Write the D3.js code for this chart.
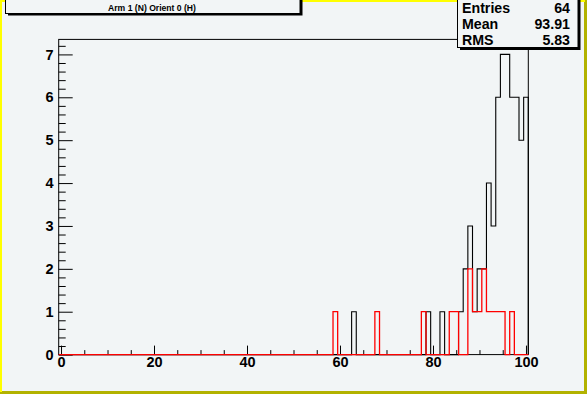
<!DOCTYPE html>
<html>
<head>
<meta charset="utf-8">
<script src="https://cdn.jsdelivr.net/npm/d3@7"></script>
<style>
	html, body { margin: 0; padding: 0; background: #f2f5f6; }
	svg { display: block; }
	text { font-family: "Liberation Sans", Arial, Helvetica, sans-serif; font-weight: bold; }
</style>
</head>
<body>
<div id="chart"></div>
<script>
const width = 587;
const height = 394;

// histogram contents, bins of width 1 centred on integers 0..100
const blackBins = [63, 79, 82, 86, 87, 88, 89, 90, 91, 92, 93, 94, 95, 96, 97, 98, 99, 100];
const blackCounts = [1, 1, 1, 1, 2, 3, 1, 2, 2, 4, 3, 6, 7, 7, 6, 6, 5, 6];
const redBins = [59, 68, 78, 84, 85, 88, 89, 90, 91, 92, 93, 94, 95, 97];
const redCounts = [1, 1, 1, 1, 1, 2, 1, 1, 2, 1, 1, 1, 1, 1];

const xMajorTicks = [0, 20, 40, 60, 80, 100];
const yMajorTicks = [0, 1, 2, 3, 4, 5, 6, 7];

const titleText = "Arm 1 (N) Orient 0 (H)";
const statLabels = ["Entries", "Mean", "RMS"];
const statValues = ["64", "93.91", "5.83"];

const bg = "#f2f5f6";

const svg = d3
	.select("#chart")
	.append("svg")
	.attr("width", width)
	.attr("height", height);

svg.append("rect").attr("width", width).attr("height", height).attr("fill", bg);

// canvas bevel border
svg.append("rect").attr("x", 0).attr("y", height - 3).attr("width", width).attr("height", 3).attr("fill", "#b2b200");
svg.append("rect").attr("x", width - 3).attr("y", 0).attr("width", 3).attr("height", height).attr("fill", "#b2b200");
svg.append("rect").attr("x", 0).attr("y", 0).attr("width", width - 2).attr("height", 2).attr("fill", "#ffff00");
svg.append("rect").attr("x", 0).attr("y", 0).attr("width", 2).attr("height", height - 2).attr("fill", "#ffff00");

// frame
const frameL = 58.7, frameR = 528.3, frameT = 39.4, frameB = 354.6;

const x = d3.scaleLinear().domain([-0.5, 100.5]).range([frameL, frameR]);
const y = d3.scaleLinear().domain([0, 7.35]).range([frameB, frameT]);

const frame = svg.append("g");

frame
	.append("rect")
	.attr("x", frameL)
	.attr("y", frameT)
	.attr("width", frameR - frameL)
	.attr("height", frameB - frameT)
	.attr("fill", "none")
	.attr("stroke", "#000")
	.attr("stroke-width", 1);

// axes: ticks point into the frame
const xMinor = d3.range(0, 101, 5).filter(v => !xMajorTicks.includes(v));
const yMinor = d3.range(0, 7.3, 0.2).filter(v => Math.abs(v - Math.round(v)) > 0.01);

frame
	.append("g")
	.attr("transform", `translate(0,${frameB})`)
	.call(d3.axisBottom(x).tickValues(xMinor).tickSize(-4.5).tickFormat(""))
	.call(g => g.select(".domain").remove());

const xAxis = frame
	.append("g")
	.attr("transform", `translate(0,${frameB})`)
	.call(d3.axisBottom(x).tickValues(xMajorTicks).tickSize(-9).tickPadding(2))
	.call(g => g.select(".domain").remove());

xAxis.selectAll("text").attr("font-size", 14.5).attr("fill", "#000").attr("font-weight", "bold")
	.attr("font-family", '"Liberation Sans", Arial, sans-serif');

frame
	.append("g")
	.attr("transform", `translate(${frameL},0)`)
	.call(d3.axisLeft(y).tickValues(yMinor).tickSize(-7).tickFormat(""))
	.call(g => g.select(".domain").remove());

const yAxis = frame
	.append("g")
	.attr("transform", `translate(${frameL},0)`)
	.call(d3.axisLeft(y).tickValues(yMajorTicks).tickSize(-14).tickPadding(5))
	.call(g => g.select(".domain").remove());

yAxis.selectAll("text").attr("font-size", 14.5).attr("fill", "#000").attr("font-weight", "bold")
	.attr("font-family", '"Liberation Sans", Arial, sans-serif');

// histograms
function fullBins(bins, counts) {
	const out = new Array(101).fill(0);
	bins.forEach((b, i) => { out[b] = counts[i]; });
	return out;
}

function stepPoints(values) {
	const pts = values.map((v, i) => [i - 0.5, v]);
	pts.push([100.5, values[values.length - 1]]);
	pts.push([100.5, 0]);
	return pts;
}

const histLine = d3
	.line()
	.x(d => x(d[0]))
	.y(d => y(d[1]))
	.curve(d3.curveStepAfter);

svg.append("path")
	.attr("d", histLine(stepPoints(fullBins(blackBins, blackCounts))))
	.attr("fill", "none")
	.attr("stroke", "#000")
	.attr("stroke-width", 1.1);

svg.append("path")
	.attr("d", histLine(stepPoints(fullBins(redBins, redCounts))))
	.attr("fill", "none")
	.attr("stroke", "#ff0000")
	.attr("stroke-width", 1.3);

// title pave with shadow
svg.append("rect").attr("x", 8).attr("y", -5).attr("width", 294.5).attr("height", 20.5).attr("fill", "#000");
svg.append("rect")
	.attr("x", 5.5).attr("y", -5).attr("width", 294.5).attr("height", 18.5)
	.attr("fill", bg).attr("stroke", "#000").attr("stroke-width", 1);
svg.append("text")
	.attr("x", 152).attr("y", 11)
	.attr("text-anchor", "middle")
	.attr("font-size", 8.6)
	.text(titleText);

// stats box with shadow
svg.append("rect").attr("x", 460).attr("y", -5).attr("width", 120.5).attr("height", 55).attr("fill", "#000");
svg.append("rect")
	.attr("x", 457.5).attr("y", -5).attr("width", 120.5).attr("height", 52.5)
	.attr("fill", bg).attr("stroke", "#000").attr("stroke-width", 1);

const stats = svg.append("g");
statLabels.forEach((lab, i) => {
	stats.append("text").attr("x", 462).attr("y", 13 + i * 16.2).attr("font-size", 14.2).text(lab);
	stats.append("text").attr("x", 570).attr("y", 13 + i * 16.2).attr("font-size", 14.2)
		.attr("text-anchor", "end").text(statValues[i]);
});
</script>
</body>
</html>
